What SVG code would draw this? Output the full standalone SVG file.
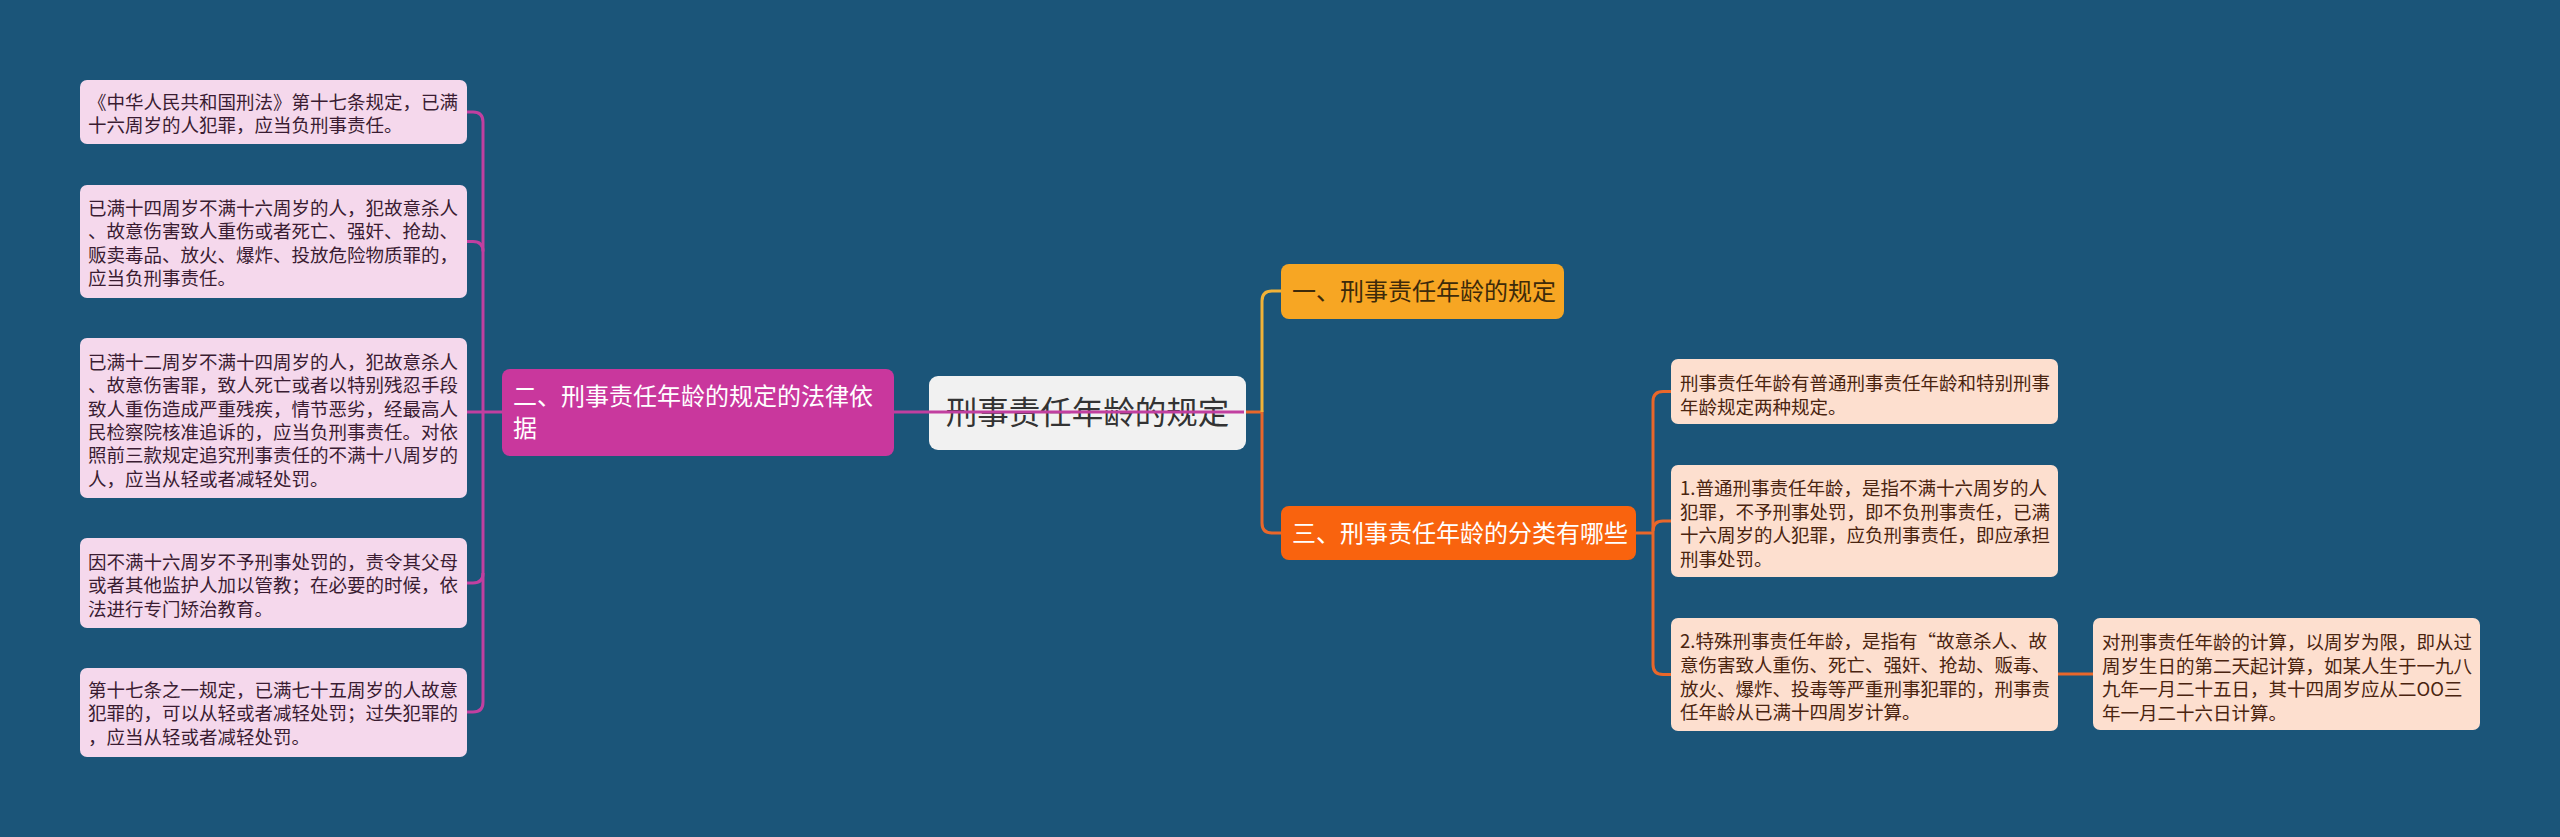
<svg xmlns="http://www.w3.org/2000/svg" width="2560" height="837" viewBox="0 0 2560 837">
<style>
text{font-family:"Noto Sans CJK SC","Noto Sans",sans-serif;}
.leaf{fill:#F5D8EC;}
.leaft{font-size:18.5px;fill:#3A1C32;}
.peach{fill:#FDDFCF;}
.peacht{font-size:18.5px;fill:#4A2410;}
.conn{fill:none;stroke-width:3;}
.sh{fill:#0F3C58;opacity:0.5;}
</style>
<rect x="0" y="0" width="2560" height="837" fill="#1B5579"/>
<g id="connectors">
<path class="conn" stroke="#C13FA0" d="M467,112 H473 Q483,112 483,122 V702 Q483,712 473,712 H467"/>
<path class="conn" stroke="#C13FA0" d="M467,241.5 H473 Q483,241.5 483,251.5"/>
<path class="conn" stroke="#C13FA0" d="M467,412 H502"/>
<path class="conn" stroke="#C13FA0" d="M467,583 H473 Q483,583 483,573"/>
<path class="conn" stroke="#E9672A" d="M1240,412 H1262 V523 Q1262,533 1272,533 H1281"/>
<path class="conn" stroke="#F0B238" d="M1262,412 V301 Q1262,291 1272,291 H1281"/>
<path class="conn" stroke="#E9672A" d="M1636,533 H1653"/>
<path class="conn" stroke="#E9672A" d="M1671,391.5 H1663 Q1653,391.5 1653,401.5 V664.5 Q1653,674.5 1663,674.5 H1671"/>
<path class="conn" stroke="#E9672A" d="M1653,531 Q1653,521 1663,521 H1671"/>
<path class="conn" stroke="#E9672A" d="M2058,674 H2093"/>
</g>
<g id="node-root">
<rect x="929" y="376" width="317" height="74" rx="9" fill="#F1F1F1"/>
<text x="1087.5" y="424" font-size="31.5" fill="#333333" text-anchor="middle">刑事责任年龄的规定</text>
</g>
<path class="conn" stroke="#C13FA0" d="M894,412 H1244"/>
<g id="node-b2">
<rect x="502" y="369" width="392" height="87" rx="8" fill="#C9379D"/>
<text x="513" y="405" font-size="24" fill="#FFFFFF">二、刑事责任年龄的规定的法律依</text>
<text x="513" y="437" font-size="24" fill="#FFFFFF">据</text>
</g>
<g id="node-b1">
<rect x="1281" y="264" width="283" height="55" rx="8" fill="#F7A623"/>
<text x="1292" y="300" font-size="24" fill="#3D2A0A">一、刑事责任年龄的规定</text>
</g>
<g id="node-b3">
<rect x="1281" y="506" width="355" height="54" rx="8" fill="#F9630E"/>
<text x="1292" y="542" font-size="24" fill="#FFFFFF">三、刑事责任年龄的分类有哪些</text>
</g>
<g id="leaf-l1">
<rect class="leaf" x="80" y="80" width="387" height="64" rx="7"/>
<text class="leaft" x="88" y="108.5">《中华人民共和国刑法》第十七条规定，已满</text>
<text class="leaft" x="88" y="131.8">十六周岁的人犯罪，应当负刑事责任。</text>
</g>
<g id="leaf-l2">
<rect class="leaf" x="80" y="185" width="387" height="113" rx="7"/>
<text class="leaft" x="88" y="215">已满十四周岁不满十六周岁的人，犯故意杀人</text>
<text class="leaft" x="88" y="238.3">、故意伤害致人重伤或者死亡、强奸、抢劫、</text>
<text class="leaft" x="88" y="261.6">贩卖毒品、放火、爆炸、投放危险物质罪的，</text>
<text class="leaft" x="88" y="284.9">应当负刑事责任。</text>
</g>
<g id="leaf-l3">
<rect class="leaf" x="80" y="338" width="387" height="160" rx="7"/>
<text class="leaft" x="88" y="369">已满十二周岁不满十四周岁的人，犯故意杀人</text>
<text class="leaft" x="88" y="392.3">、故意伤害罪，致人死亡或者以特别残忍手段</text>
<text class="leaft" x="88" y="415.6">致人重伤造成严重残疾，情节恶劣，经最高人</text>
<text class="leaft" x="88" y="438.9">民检察院核准追诉的，应当负刑事责任。对依</text>
<text class="leaft" x="88" y="462.2">照前三款规定追究刑事责任的不满十八周岁的</text>
<text class="leaft" x="88" y="485.5">人，应当从轻或者减轻处罚。</text>
</g>
<g id="leaf-l4">
<rect class="leaf" x="80" y="538" width="387" height="90" rx="7"/>
<text class="leaft" x="88" y="569">因不满十六周岁不予刑事处罚的，责令其父母</text>
<text class="leaft" x="88" y="592.3">或者其他监护人加以管教；在必要的时候，依</text>
<text class="leaft" x="88" y="615.6">法进行专门矫治教育。</text>
</g>
<g id="leaf-l5">
<rect class="leaf" x="80" y="668" width="387" height="89" rx="7"/>
<text class="leaft" x="88" y="697">第十七条之一规定，已满七十五周岁的人故意</text>
<text class="leaft" x="88" y="720.3">犯罪的，可以从轻或者减轻处罚；过失犯罪的</text>
<text class="leaft" x="88" y="743.6">，应当从轻或者减轻处罚。</text>
</g>
<g id="leaf-r1">
<rect class="peach" x="1671" y="359" width="387" height="65" rx="7"/>
<text class="peacht" x="1680" y="390">刑事责任年龄有普通刑事责任年龄和特别刑事</text>
<text class="peacht" x="1680" y="413.5">年龄规定两种规定。</text>
</g>
<g id="leaf-r2">
<rect class="peach" x="1671" y="465" width="387" height="112" rx="7"/>
<text class="peacht" x="1680" y="495">1.普通刑事责任年龄，是指不满十六周岁的人</text>
<text class="peacht" x="1680" y="518.5">犯罪，不予刑事处罚，即不负刑事责任，已满</text>
<text class="peacht" x="1680" y="542">十六周岁的人犯罪，应负刑事责任，即应承担</text>
<text class="peacht" x="1680" y="565.5">刑事处罚。</text>
</g>
<g id="leaf-r3">
<rect class="peach" x="1671" y="618" width="387" height="113" rx="7"/>
<text class="peacht" x="1680" y="648">2.特殊刑事责任年龄，是指有“故意杀人、故</text>
<text class="peacht" x="1680" y="671.8">意伤害致人重伤、死亡、强奸、抢劫、贩毒、</text>
<text class="peacht" x="1680" y="695.6">放火、爆炸、投毒等严重刑事犯罪的，刑事责</text>
<text class="peacht" x="1680" y="719.4">任年龄从已满十四周岁计算。</text>
</g>
<g id="leaf-r4">
<rect class="peach" x="2093" y="618" width="387" height="112" rx="7"/>
<text class="peacht" x="2102" y="649">对刑事责任年龄的计算，以周岁为限，即从过</text>
<text class="peacht" x="2102" y="672.6">周岁生日的第二天起计算，如某人生于一九八</text>
<text class="peacht" x="2102" y="696.2">九年一月二十五日，其十四周岁应从二OO三</text>
<text class="peacht" x="2102" y="719.8">年一月二十六日计算。</text>
</g>
</svg>
